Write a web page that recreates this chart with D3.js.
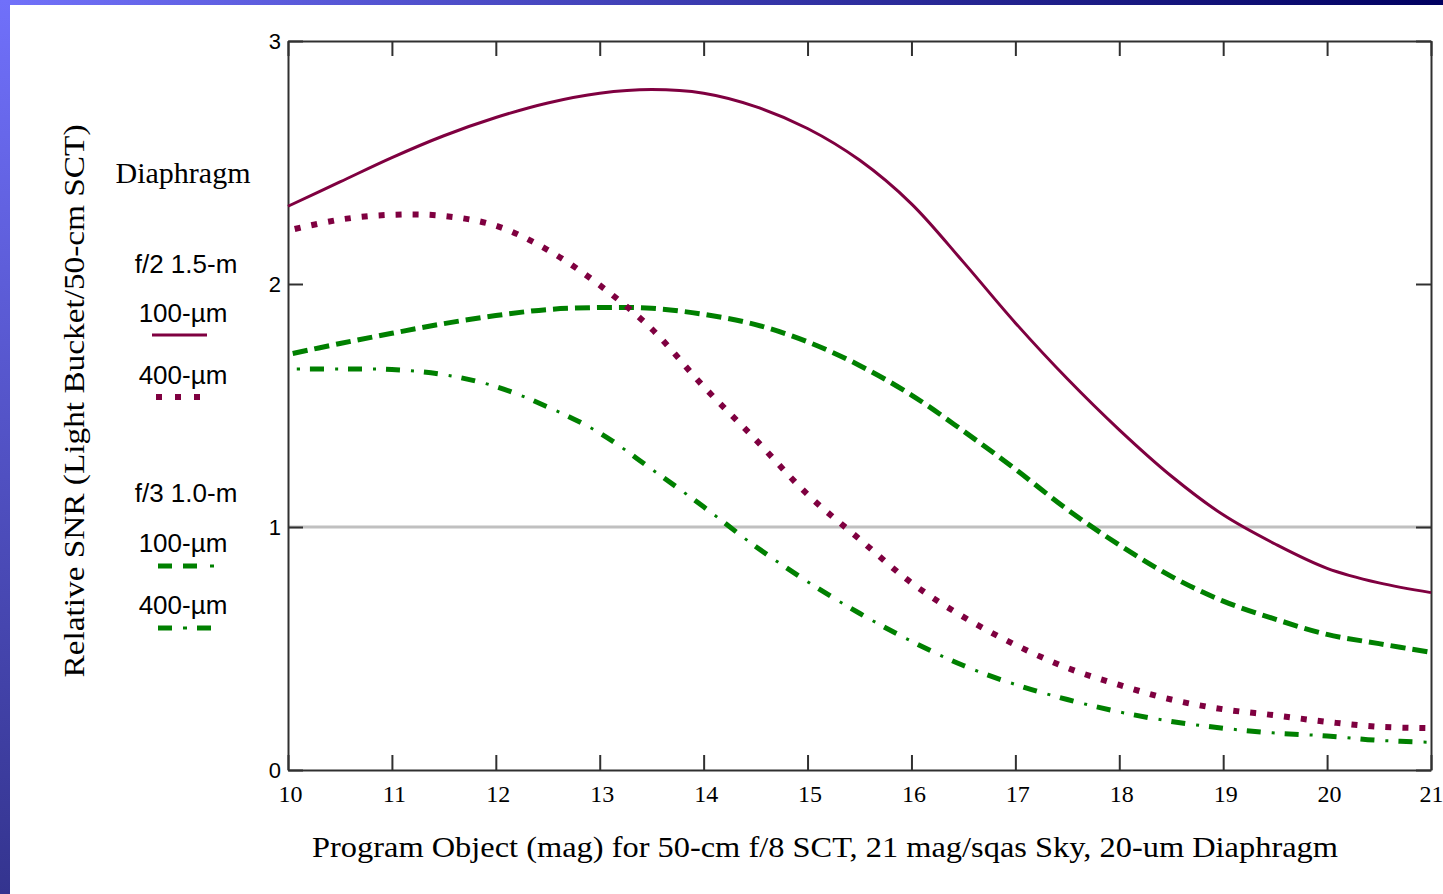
<!DOCTYPE html>
<html>
<head>
    <meta charset="UTF-8">
    <title>Relative SNR</title>
</head>
<style>
    body { margin: 0; background: #fff; }
    .serif { font-family: "Liberation Serif", "Times New Roman", serif; fill: #000; }
    .sans { font-family: "Liberation Sans", Arial, sans-serif; fill: #000; }
    .axis path, .axis line { stroke: #303030; stroke-width: 2px; }
</style>
<body>
<svg width="1443" height="894"></svg>
<script src="https://d3js.org/d3.v7.min.js"></script>
<script>

    // magnitudes sampled along the x axis
    var mags = [10, 10.5, 11, 11.5, 12, 12.5, 13, 13.5, 14, 14.5, 15, 15.5,
                16, 16.5, 17, 17.5, 18, 18.5, 19, 19.5, 20, 20.5, 21];

    // f/2 1.5-m, 100-um diaphragm (solid)
    var f2_100 = [2.32, 2.42, 2.52, 2.61, 2.685, 2.745, 2.785, 2.80, 2.785, 2.73, 2.64, 2.51,
                  2.33, 2.09, 1.84, 1.61, 1.40, 1.21, 1.05, 0.93, 0.83, 0.77, 0.73];
    // f/2 1.5-m, 400-um diaphragm (dotted)
    var f2_400 = [2.22, 2.265, 2.285, 2.28, 2.24, 2.14, 1.995, 1.815, 1.578, 1.36, 1.134, 0.95,
                  0.77, 0.63, 0.515, 0.42, 0.35, 0.29, 0.25, 0.225, 0.198, 0.178, 0.172];
    // f/3 1.0-m, 100-um diaphragm (dashed)
    var f3_100 = [1.71, 1.755, 1.797, 1.837, 1.87, 1.895, 1.903, 1.90, 1.875, 1.833, 1.762, 1.665,
                  1.543, 1.395, 1.238, 1.072, 0.926, 0.797, 0.695, 0.621, 0.558, 0.52, 0.484];
    // f/3 1.0-m, 400-um diaphragm (dash-dot)
    var f3_400 = [1.65, 1.65, 1.648, 1.627, 1.578, 1.494, 1.387, 1.238, 1.083, 0.92, 0.775, 0.645,
                  0.53, 0.43, 0.352, 0.29, 0.239, 0.2, 0.172, 0.152, 0.14, 0.122, 0.114];

    var xTicks = [10, 11, 12, 13, 14, 15, 16, 17, 18, 19, 20, 21];
    var yTicks = [0, 1, 2, 3];

    var maroon = "#7f0040",
        green = "#008000";

    var svg = d3.select("svg");

    // blue slide frame on top and left
    var defs = svg.append("defs");
    var gTop = defs.append("linearGradient").attr("id", "gTop")
        .attr("x1", "0").attr("x2", "1").attr("y1", "0").attr("y2", "0");
    gTop.append("stop").attr("offset", "0").attr("stop-color", "#7272fa");
    gTop.append("stop").attr("offset", "1").attr("stop-color", "#000060");
    var gLeft = defs.append("linearGradient").attr("id", "gLeft")
        .attr("x1", "0").attr("x2", "0").attr("y1", "0").attr("y2", "1");
    gLeft.append("stop").attr("offset", "0").attr("stop-color", "#7070fa");
    gLeft.append("stop").attr("offset", "1").attr("stop-color", "#34348f");

    svg.append("rect").attr("x", 0).attr("y", 0).attr("width", 1443).attr("height", 5).attr("fill", "url(#gTop)");
    svg.append("rect").attr("x", 0).attr("y", 0).attr("width", 10).attr("height", 894).attr("fill", "url(#gLeft)");

    var x = d3.scaleLinear().domain([10, 21]).range([288, 1431]);
    var y = d3.scaleLinear().domain([0, 3]).range([770, 41]);

    // reference line at 1
    svg.append("line")
        .attr("x1", x(10)).attr("x2", x(21))
        .attr("y1", y(1)).attr("y2", y(1))
        .attr("stroke", "#c0c0c0").attr("stroke-width", 3);

    // axes, ticks drawn inward
    var bottom = svg.append("g").attr("class", "axis")
        .attr("transform", "translate(0," + y(0) + ")")
        .call(d3.axisBottom(x).tickValues(xTicks).tickSizeInner(-15).tickSizeOuter(0)
            .tickPadding(15).tickFormat(d3.format("d")));
    bottom.selectAll("text").attr("class", "serif").attr("font-size", 24)
        .attr("dx", function(d) { return d === 21 ? 0 : 2; });

    svg.append("g").attr("class", "axis")
        .attr("transform", "translate(0," + y(3) + ")")
        .call(d3.axisTop(x).tickValues(xTicks).tickSizeInner(-15).tickSizeOuter(0).tickFormat(""));

    var left = svg.append("g").attr("class", "axis")
        .attr("transform", "translate(" + x(10) + ",0)")
        .call(d3.axisLeft(y).tickValues(yTicks).tickSizeInner(-15).tickSizeOuter(0)
            .tickPadding(7).tickFormat(d3.format("d")));
    left.selectAll("text").attr("class", "sans").attr("font-size", 22);

    svg.append("g").attr("class", "axis")
        .attr("transform", "translate(" + x(21) + ",0)")
        .call(d3.axisRight(y).tickValues(yTicks).tickSizeInner(-15).tickSizeOuter(0).tickFormat(""));

    svg.selectAll(".axis .domain").attr("stroke-width", 2.5);

    var line = d3.line()
        .x(function(d) { return x(d[0]); })
        .y(function(d) { return y(d[1]); })
        .curve(d3.curveCatmullRom.alpha(0.5));

    function pts(vals) {
        return mags.map(function(m, i) { return [m, vals[i]]; });
    }

    var plot = svg.append("g").attr("fill", "none");

    plot.append("path").datum(pts(f3_100)).attr("d", line)
        .attr("stroke", green).attr("stroke-width", 5)
        .attr("stroke-dasharray", "15,7").attr("stroke-dashoffset", -5);

    // dash-dot: dashes and small crosses in two passes
    plot.append("path").datum(pts(f3_400)).attr("d", line)
        .attr("stroke", green).attr("stroke-width", 5)
        .attr("stroke-dasharray", "14,24").attr("stroke-dashoffset", -22);
    plot.append("path").datum(pts(f3_400)).attr("d", line)
        .attr("stroke", green).attr("stroke-width", 3)
        .attr("stroke-dasharray", "3,35").attr("stroke-dashoffset", -9);

    plot.append("path").datum(pts(f2_400)).attr("d", line)
        .attr("stroke", maroon).attr("stroke-width", 6)
        .attr("stroke-dasharray", "6,11").attr("stroke-dashoffset", -7);

    plot.append("path").datum(pts(f2_100)).attr("d", line)
        .attr("stroke", maroon).attr("stroke-width", 3);

    // axis titles
    svg.append("text").attr("class", "serif")
        .attr("x", 825).attr("y", 857)
        .attr("text-anchor", "middle").attr("font-size", 29)
        .attr("textLength", 1026).attr("lengthAdjust", "spacingAndGlyphs")
        .text("Program Object (mag) for 50-cm f/8 SCT, 21 mag/sqas Sky, 20-um Diaphragm");

    svg.append("text").attr("class", "serif")
        .attr("transform", "translate(84,401) rotate(-90)")
        .attr("text-anchor", "middle").attr("font-size", 29)
        .attr("textLength", 553).attr("lengthAdjust", "spacingAndGlyphs")
        .text("Relative SNR (Light Bucket/50-cm SCT)");

    // legend
    var legend = svg.append("g");
    legend.append("text").attr("class", "serif")
        .attr("x", 183).attr("y", 183).attr("text-anchor", "middle")
        .attr("font-size", 30).text("Diaphragm");

    var legendText = [
        { t: "f/2 1.5-m", x: 186, y: 273 },
        { t: "100-\u00b5m", x: 183, y: 322 },
        { t: "400-\u00b5m", x: 183, y: 384 },
        { t: "f/3 1.0-m", x: 186, y: 502 },
        { t: "100-\u00b5m", x: 183, y: 552 },
        { t: "400-\u00b5m", x: 183, y: 614 }
    ];
    legend.selectAll("text.sans").data(legendText).enter().append("text")
        .attr("class", "sans")
        .attr("x", function(d) { return d.x; })
        .attr("y", function(d) { return d.y; })
        .attr("text-anchor", "middle").attr("font-size", 26)
        .text(function(d) { return d.t; });

    legend.append("line").attr("x1", 152).attr("x2", 207).attr("y1", 335).attr("y2", 335)
        .attr("stroke", maroon).attr("stroke-width", 3);
    legend.append("line").attr("x1", 156).attr("x2", 201).attr("y1", 397).attr("y2", 397)
        .attr("stroke", maroon).attr("stroke-width", 6).attr("stroke-dasharray", "6,13");
    legend.append("line").attr("x1", 158).attr("x2", 201).attr("y1", 566).attr("y2", 566)
        .attr("stroke", green).attr("stroke-width", 5).attr("stroke-dasharray", "14,11");
    legend.append("line").attr("x1", 210).attr("x2", 214).attr("y1", 566).attr("y2", 566)
        .attr("stroke", green).attr("stroke-width", 3);
    legend.append("line").attr("x1", 158).attr("x2", 214).attr("y1", 628).attr("y2", 628)
        .attr("stroke", green).attr("stroke-width", 5).attr("stroke-dasharray", "14,25");
    legend.append("line").attr("x1", 183).attr("x2", 187).attr("y1", 628).attr("y2", 628)
        .attr("stroke", green).attr("stroke-width", 3);

</script>
</body>
</html>
